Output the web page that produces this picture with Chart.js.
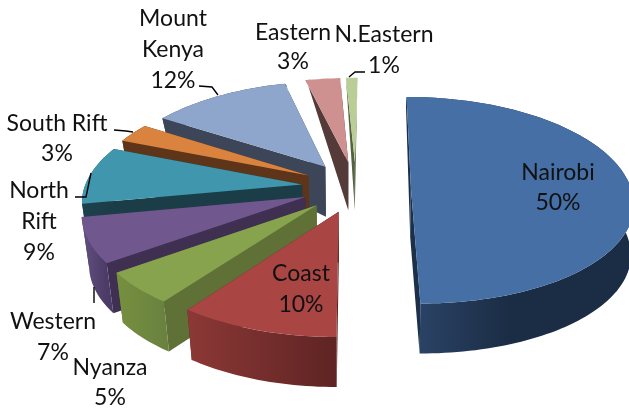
<!DOCTYPE html>
<html><head><meta charset="utf-8">
<style>html,body{margin:0;padding:0;background:#fff}canvas{display:block}</style>
<script src="https://cdn.jsdelivr.net/npm/chart.js@4"></script></head>
<body><canvas id="c" width="629" height="408"></canvas>
<script>
const categories = ["Nairobi","Coast","Nyanza","Western","North Rift","South Rift","Mount Kenya","Eastern","N.Eastern"];
const shares = [50,10,5,7,9,3,12,3,1];
const topColors = ["#456FA5","#A94543","#87A34D","#70588F","#4097AD","#D9833F","#8FA6CC","#CF9190","#B9CE96"];
const cutColors = ["#1C3049","#5E2423","#5F7136","#3F2F50","#1B3D48","#5E3519","#3C4658","#553A3A","#55603F"];
const rimLight  = ["#2C4569","#8C3836","#76903F","#625081","#1D424D","#5E3519","#3C4658","#553A3A","#55603F"];
const rimDark   = ["#1B2D45","#5E2423","#6A8240","#4C3B66","#1B3D48","#5E3519","#3C4658","#553A3A","#55603F"];
const drawOrder = [7,8,6,5,4,3,2,1,0];
const labelLines = [["Nairobi","50%"],["Coast","10%"],["Nyanza","5%"],["Western","7%"],["North","Rift","9%"],["South Rift","3%"],["Mount","Kenya","12%"],["Eastern","3%"],["N.Eastern","1%"]];
const labelCenterX = [558,301,110,53,39,57,173,293,384];
const labelLineY = [[173,203],[274,305],[368,398],[322,353],[191,222,253],[124,154],[19,50,81],[33,62],[35,66]];
const leaders = [[[199,86],[212,87],[218,95]],[[365,72],[355,72],[349,77]],[[114,130],[126,131],[133,132]],[[75,197],[86,197],[91,173]],[[94,287],[94,303]]];

const explode = 0.25, persp = 0.14, centerU = 0.02, centerV = -0.025;
const vanishX = 351.5, planeY = 189.5, rxRatio = 1.08, ryRatio = 0.495;
const leftShrink = 0.01, backShiftX = 3, backShiftY = 2;
const maxWall = 50, wallSlope = 0.58, wallStartY = 80, wallPinchLeft = 0.028, wallPinchRight = 0.01, wallPinchX = 345;

function project(U, V, r){
  const w = 1 - persp * V;
  const sx = U < 0 ? 1 - leftShrink : 1;
  return [vanishX + sx * r * rxRatio * U / w + backShiftX * Math.max(0, -V),
          planeY + r * ryRatio * V / w + backShiftY * Math.min(0, V)];
}
function drop(p){
  const h = Math.max(0, Math.min(maxWall, (p[1] - wallStartY) * wallSlope));
  const pinch = p[0] < wallPinchX ? wallPinchLeft : wallPinchRight;
  return [p[0] + (wallPinchX - p[0]) * pinch, p[1] + h];
}
function fillPoly(ctx, pts, fill){
  ctx.beginPath();
  pts.forEach((p,i)=> i ? ctx.lineTo(p[0],p[1]) : ctx.moveTo(p[0],p[1]));
  ctx.closePath();
  ctx.fillStyle = fill; ctx.fill();
}
const pie3d = {
  id:"pie3d",
  beforeDatasetsDraw(chart){
    const ctx = chart.ctx, arcs = chart.getDatasetMeta(0).data;
    drawOrder.forEach(i=>{
      const el = arcs[i], r = el.outerRadius;
      const a0 = el.startAngle, a1 = el.endAngle, mid = (a0+a1)/2;
      const ou = centerU + explode*Math.cos(mid), ov = centerV + explode*Math.sin(mid);
      const apex = project(ou, ov, r);
      const n = Math.max(4, Math.ceil((a1-a0)*40));
      const rim = [];
      for(let k=0;k<=n;k++){
        const a = a0+(a1-a0)*k/n;
        rim.push(project(ou+Math.cos(a), ov+Math.sin(a), r));
      }
      const first = rim[0], last = rim[n];
      fillPoly(ctx,[apex,first,drop(first),drop(apex)],cutColors[i]);
      fillPoly(ctx,[apex,last,drop(last),drop(apex)],cutColors[i]);
      const xs = rim.map(p=>p[0]);
      const g = ctx.createLinearGradient(Math.min(...xs),0,Math.max(...xs),0);
      g.addColorStop(0,rimLight[i]); g.addColorStop(i===0?0.45:1,rimDark[i]);
      fillPoly(ctx,rim.concat(rim.slice().reverse().map(drop)),g);
      fillPoly(ctx,[apex].concat(rim),topColors[i]);
    });
    return false;
  },
  afterDraw(chart){
    const ctx = chart.ctx;
    ctx.strokeStyle="#000"; ctx.lineWidth=1.4;
    leaders.forEach(l=>{
      ctx.beginPath();
      l.forEach((p,i)=> i ? ctx.lineTo(p[0],p[1]) : ctx.moveTo(p[0],p[1]));
      ctx.stroke();
    });
    ctx.fillStyle="#111"; ctx.font="23px Lato, Carlito, sans-serif";
    ctx.textAlign="center"; ctx.textBaseline="middle";
    labelLines.forEach((lines,i)=>lines.forEach((t,j)=>ctx.fillText(t,labelCenterX[i],labelLineY[i][j])));
  }
};
new Chart(document.getElementById("c"),{
  type:"pie",
  data:{labels:categories,datasets:[{data:shares,backgroundColor:topColors,borderWidth:0}]},
  options:{responsive:false,animation:false,plugins:{legend:{display:false},tooltip:{enabled:false},title:{display:false}}},
  plugins:[pie3d]
});
</script></body></html>
